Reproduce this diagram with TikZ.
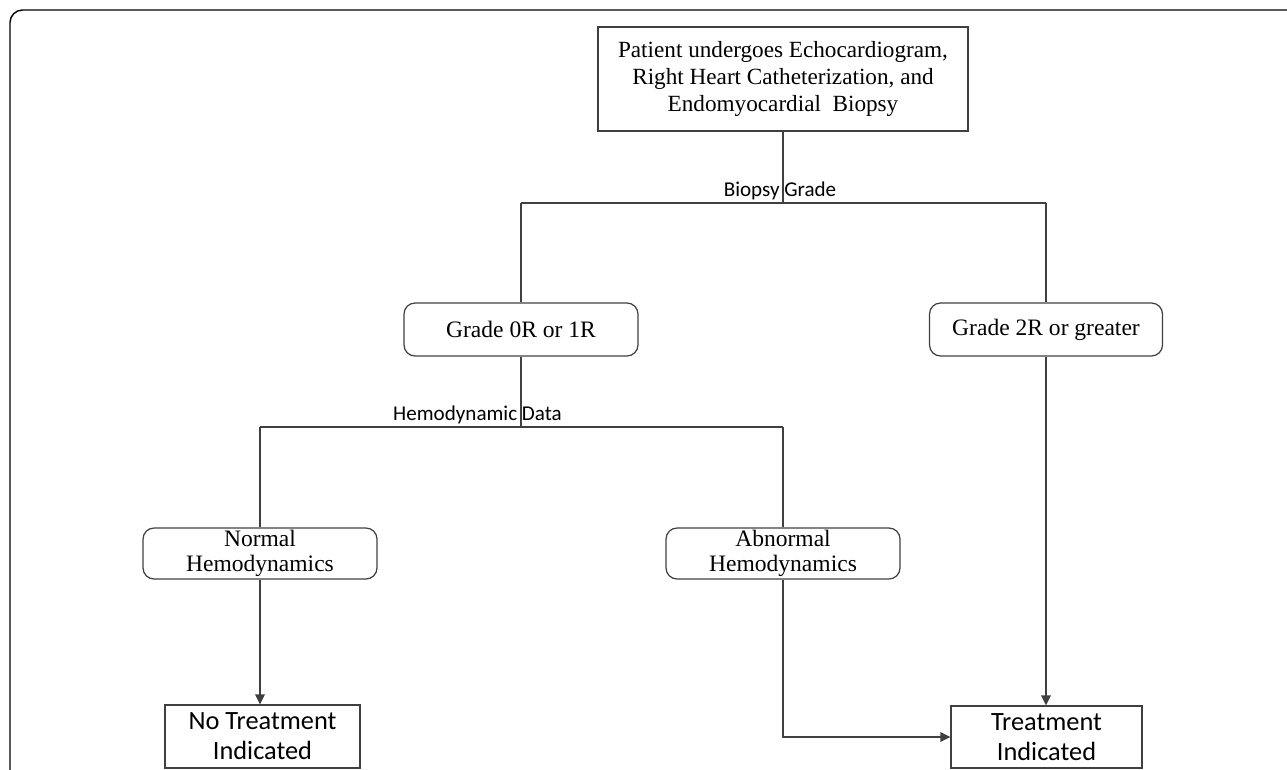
\documentclass[tikz,border=0pt]{standalone}
\usepackage{fontspec}
\setmainfont{Liberation Serif}
\newfontfamily\calibri{Carlito}
\usetikzlibrary{arrows.meta}

\definecolor{linegray}{HTML}{404040}
\tikzset{
  box/.style={draw=linegray, line width=0.7pt, align=center, inner sep=0pt,
    font=\fontsize{13.2}{15.6}\selectfont},
  rbox/.style={box, rounded corners=0.22cm, font=\fontsize{13.4}{14.6}\selectfont},
  outbox/.style={box, font=\calibri\fontsize{15}{17}\selectfont},
  conn/.style={draw=linegray, line width=1pt},
  arr/.style={conn, -{Triangle[length=2mm,width=1.9mm]}},
  lbl/.style={font=\calibri\fontsize{12}{14}\selectfont, anchor=south, inner sep=1.5pt}
}

\begin{document}
\begin{tikzpicture}[x=0.02cm, y=-0.02cm]
  \useasboundingbox (0,0) rectangle (1287,769);
  % frame round the figure
  \draw[line width=0.8pt, rounded corners=0.25cm] (10,800) -- (10,10) -- (1320,10);
  % boxes
  \node[box, minimum width=7.4cm, minimum height=2.08cm] (patient) at (783,79)
    {Patient undergoes Echocardiogram,\\Right Heart Catheterization, and\\Endomyocardial\ \ Biopsy};
  \node[rbox, minimum width=4.68cm, minimum height=1.06cm] (gradelow) at (521,329.5) {Grade 0R or 1R};
  \node[rbox, minimum width=4.66cm, minimum height=1.06cm] (gradehigh) at (1046,329.5) {Grade 2R or greater};
  \node[rbox, minimum width=4.68cm, minimum height=1.02cm] (normal) at (260,553.5) {Normal\\Hemodynamics};
  \node[rbox, minimum width=4.68cm, minimum height=1.02cm] (abnormal) at (783,553.5) {Abnormal\\Hemodynamics};
  \node[outbox, minimum width=3.9cm, minimum height=1.26cm] (notreat) at (262.5,736.5) {No Treatment\\Indicated};
  \node[outbox, minimum width=3.82cm, minimum height=1.24cm] (treat) at (1046.5,737) {Treatment\\Indicated};
  % split points
  \coordinate (bsplit) at (783,203);
  \coordinate (bleft) at (521,203);
  \coordinate (bright) at (1046,203);
  \coordinate (hsplit) at (521,427);
  \coordinate (hleft) at (260,427);
  \coordinate (hright) at (783,427);
  % biopsy branch
  \draw[conn] (patient.south) -- (bsplit);
  \draw[conn] (bleft) -- (bright);
  \draw[conn] (bleft) -- (gradelow.north);
  \draw[conn] (bright) -- (gradehigh.north);
  \node[lbl] at (780,203) {Biopsy Grade};
  % hemodynamic branch
  \draw[conn] (gradelow.south) -- (hsplit);
  \draw[conn] (hleft) -- (hright);
  \draw[conn] (hleft) -- (normal.north);
  \draw[conn] (hright) -- (abnormal.north);
  \node[lbl] at (477.5,427) {Hemodynamic Data};
  % outcomes
  \draw[arr] (normal.south) -- (normal.south |- notreat.north);
  \draw[arr] (gradehigh.south) -- (gradehigh.south |- treat.north);
  \draw[arr] (abnormal.south) |- (treat.west);
\end{tikzpicture}
\end{document}
